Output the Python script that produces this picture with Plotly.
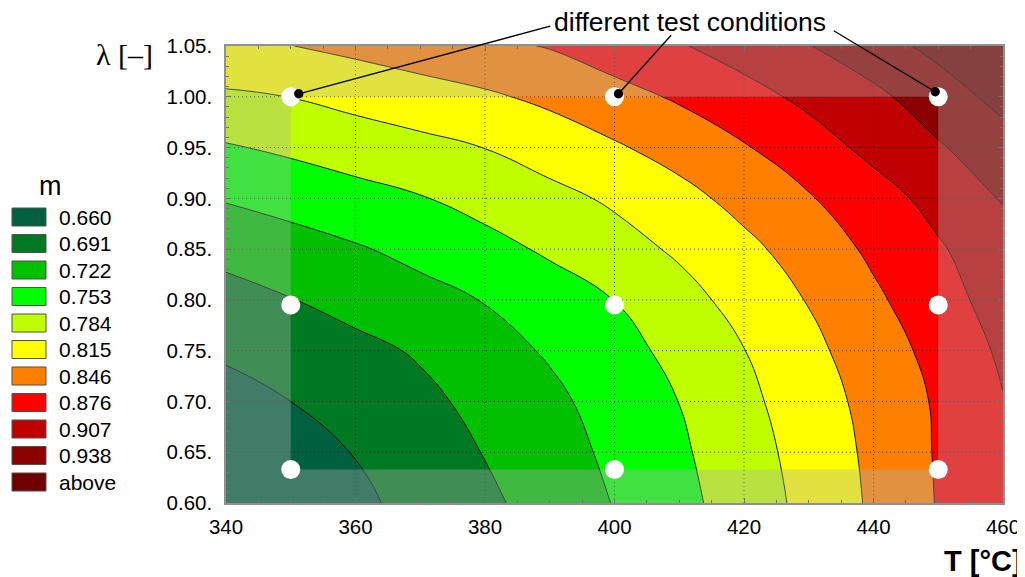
import plotly.graph_objects as go

# ---------------- data ----------------
T_grid = [340, 350, 360, 370, 380, 390, 400, 410, 420, 430, 440, 450, 460]
lam_grid = [0.60, 0.65, 0.70, 0.75, 0.80, 0.85, 0.90, 0.95, 1.00, 1.05]

# m values (rows: lambda, columns: T)
m_060 = [0.630, 0.641, 0.654, 0.669, 0.685, 0.703, 0.723, 0.744, 0.767, 0.792, 0.819, 0.847, 0.870]
m_065 = [0.639, 0.650, 0.661, 0.676, 0.692, 0.709, 0.728, 0.748, 0.771, 0.795, 0.821, 0.848, 0.872]
m_070 = [0.650, 0.660, 0.672, 0.684, 0.699, 0.715, 0.734, 0.753, 0.776, 0.800, 0.824, 0.849, 0.875]
m_075 = [0.664, 0.673, 0.683, 0.694, 0.710, 0.725, 0.742, 0.761, 0.783, 0.807, 0.830, 0.855, 0.881]
m_080 = [0.680, 0.690, 0.701, 0.712, 0.723, 0.738, 0.753, 0.773, 0.794, 0.816, 0.840, 0.864, 0.889]
m_085 = [0.700, 0.709, 0.719, 0.730, 0.743, 0.757, 0.772, 0.788, 0.807, 0.828, 0.851, 0.873, 0.895]
m_090 = [0.724, 0.733, 0.742, 0.751, 0.763, 0.775, 0.788, 0.805, 0.824, 0.843, 0.864, 0.886, 0.909]
m_095 = [0.750, 0.758, 0.767, 0.775, 0.784, 0.797, 0.811, 0.826, 0.843, 0.863, 0.884, 0.904, 0.926]
m_100 = [0.779, 0.784, 0.793, 0.802, 0.810, 0.821, 0.835, 0.849, 0.866, 0.883, 0.900, 0.924, 0.947]
m_105 = [0.808, 0.814, 0.822, 0.830, 0.839, 0.847, 0.861, 0.874, 0.889, 0.906, 0.926, 0.946, 0.968]
m_rows = [m_060, m_065, m_070, m_075, m_080, m_085, m_090, m_095, m_100, m_105]

levels = [0.660, 0.691, 0.722, 0.753, 0.784, 0.815, 0.846, 0.876, 0.907, 0.938]
legend_labels = [f"{v:.3f}" for v in levels] + ["above"]
band_colors = ["#006040", "#007a22", "#00c000", "#00ff00", "#c0ff00", "#ffff00",
               "#ff8000", "#ff0000", "#c00000", "#8b0000", "#700000"]

test_T = [350, 400, 450]
test_lam = [0.633, 0.795, 1.00]

x_ticks = [340, 360, 380, 400, 420, 440, 460]
y_ticks = [0.60, 0.65, 0.70, 0.75, 0.80, 0.85, 0.90, 0.95, 1.00, 1.05]
y_ticktext = [f"{v:.2f}." for v in y_ticks]

# ---------------- layout helpers ----------------
OFF = 8                      # page body margin of the browser
W, H = 1025 - OFF, 577 - OFF
PL, PR, PT, PB = 226, 1003, 46, 503   # plot area in window pixels
FONT = "Liberation Sans, Arial, sans-serif"


def px(x):
    return (x - OFF) / W


def py(y):
    return 1 - (y - OFF) / H


fig = go.Figure()

# contour surface
fig.add_trace(go.Contour(
    x=T_grid, y=lam_grid, z=m_rows,
    autocontour=False,
    contours=dict(start=levels[0], end=levels[-1],
                  size=(levels[-1] - levels[0]) / (len(levels) - 1),
                  coloring="fill", showlines=True),
    colorscale=[[i / (len(band_colors) - 1), c] for i, c in enumerate(band_colors)],
    line=dict(color="black", width=0.9, smoothing=1.3),
    showscale=False, hoverinfo="skip",
))

# dotted grid lines (drawn above the fill)
gx, gy = [], []
for t in x_ticks[1:-1]:
    gx += [t, t, None]
    gy += [lam_grid[0], lam_grid[-1], None]
for v in y_ticks[1:-1]:
    gx += [T_grid[0], T_grid[-1], None]
    gy += [v, v, None]
fig.add_trace(go.Scatter(x=gx, y=gy, mode="lines",
                         line=dict(color="rgba(30,30,30,0.85)", width=1, dash="1px,3px"),
                         hoverinfo="skip", showlegend=False))

# translucent veil outside the tested region
x0, x1 = T_grid[0], T_grid[-1]
l0, l1 = lam_grid[0], lam_grid[-1]
tx0, tx1 = min(test_T), max(test_T)
tl0, tl1 = min(test_lam), max(test_lam)
rects = [(x0, tx0, l0, l1), (tx1, x1, l0, l1), (tx0, tx1, tl1, l1), (tx0, tx1, l0, tl0)]
vx, vy = [], []
for a, b, c, d in rects:
    vx += [a, b, b, a, a, None]
    vy += [c, c, d, d, c, None]
fig.add_trace(go.Scatter(x=vx, y=vy, mode="lines", fill="toself",
                         fillcolor="rgba(173,173,173,0.37)", line=dict(width=0),
                         hoverinfo="skip", showlegend=False))

# test points
pts_T = [t for l in test_lam for t in test_T]
pts_l = [l for l in test_lam for t in test_T]
fig.add_trace(go.Scatter(x=pts_T, y=pts_l, mode="markers",
                         marker=dict(color="white", size=19, line=dict(width=0)),
                         hoverinfo="skip", showlegend=False))

annotations = []
# arrows to the three upper test points
tip_shift = [(8, 3), (4, 3), (-3, 5)]
tail_off = [(253, -68), (54, -60), (-103, -62)]
for t, (sx, sy), (ax, ay) in zip(test_T, tip_shift, tail_off):
    annotations.append(dict(x=t, y=tl1, xref="x", yref="y", text="",
                            xshift=sx, yshift=sy, showarrow=True,
                            ax=ax, ay=ay, arrowhead=6, arrowsize=1.8,
                            arrowwidth=1.3, arrowcolor="black", standoff=0))
annotations.append(dict(x=px(690), y=py(22), xref="paper", yref="paper",
                        text="different test conditions", showarrow=False,
                        font=dict(family=FONT, size=26.5, color="black"),
                        xanchor="center", yanchor="middle"))

# axis titles
annotations.append(dict(x=px(124), y=py(55), xref="paper", yref="paper",
                        text="λ [–]", showarrow=False,
                        font=dict(family="Liberation Serif, Times New Roman, serif", size=30, color="black"),
                        xanchor="center", yanchor="middle"))
annotations.append(dict(x=px(1024), y=py(561), xref="paper", yref="paper",
                        text="<b>T [°C]</b>", showarrow=False,
                        font=dict(family=FONT, size=29, color="black"),
                        xanchor="right", yanchor="middle"))

# legend
shapes = []
annotations.append(dict(x=px(50), y=py(186), xref="paper", yref="paper",
                        text="m", showarrow=False,
                        font=dict(family=FONT, size=27, color="black"),
                        xanchor="center", yanchor="middle"))
row0, step = 217, 26.5
for i, (lab, col) in enumerate(zip(legend_labels, band_colors)):
    yc = row0 + i * step
    shapes.append(dict(type="rect", xref="paper", yref="paper",
                       x0=px(12), x1=px(46), y0=py(yc - 9), y1=py(yc + 9),
                       fillcolor=col, line=dict(color="#505050", width=1)))
    annotations.append(dict(x=px(57), y=py(yc), xref="paper", yref="paper",
                            text=lab, showarrow=False,
                            font=dict(family=FONT, size=21, color="black"),
                            xanchor="left", yanchor="middle"))

fig.update_layout(
    width=W, height=H,
    margin=dict(l=0, r=0, t=0, b=0, pad=0),
    paper_bgcolor="white", plot_bgcolor="white",
    showlegend=False,
    annotations=annotations, shapes=shapes,
    xaxis=dict(domain=[px(PL), px(PR)], range=[T_grid[0], T_grid[-1]],
               automargin=False,
               tickvals=x_ticks, ticktext=[str(v) for v in x_ticks],
               ticks="inside", ticklen=5, tickcolor="#707070",
               minor=dict(dtick=5, ticks="inside", ticklen=3, tickcolor="#707070", showgrid=False),
               showgrid=False, zeroline=False, showline=True, linecolor="#909090",
               linewidth=1.5, mirror="allticks", ticklabelstandoff=5,
               tickfont=dict(family=FONT, size=20.5, color="black")),
    yaxis=dict(domain=[py(PB), py(PT)], range=[lam_grid[0], lam_grid[-1]],
               automargin=False,
               tickvals=y_ticks, ticktext=y_ticktext,
               ticks="inside", ticklen=5, tickcolor="#707070",
               minor=dict(dtick=0.01, ticks="inside", ticklen=3, tickcolor="#707070", showgrid=False),
               showgrid=False, zeroline=False, showline=True, linecolor="#909090",
               linewidth=1.5, mirror="allticks", ticklabelstandoff=8,
               tickfont=dict(family=FONT, size=20.5, color="black")),
)

fig.write_html("out.html")
